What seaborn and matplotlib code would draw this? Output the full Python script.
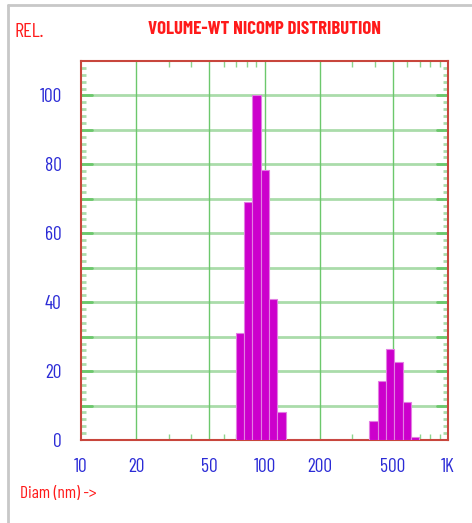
import matplotlib

matplotlib.use("Agg")
import matplotlib.pyplot as plt
import numpy as np
import seaborn as sns
from matplotlib.lines import Line2D
from matplotlib.ticker import FixedLocator, NullFormatter

# bin centres (nm) and relative volume-weighted intensity
diam_nm = [73.4, 81.5, 90.5, 100.5, 111.6, 123.9, 392, 436, 484, 537, 597, 663]
rel = [31, 69, 100, 78.5, 41, 8, 5.5, 17, 26.5, 22.5, 11, 1]

x_ticks = [10, 20, 50, 100, 200, 500, 1000]
x_tick_labels = ["10", "20", "50", "100", "200", "500", "1K"]
x_minor = [30, 40, 60, 70, 80, 90, 300, 400, 600, 700, 800, 900]
y_ticks = [0, 20, 40, 60, 80, 100]

RED = "#ff1a1a"
BLUE = "#2b2bd6"
SPINE = "#c8463c"
BAR = "#cc00cc"

sns.set_style("white")
plt.rcParams["font.family"] = ["Barlow Condensed", "Roboto Condensed", "DejaVu Sans"]

fig = plt.figure(figsize=(4.72, 5.23), dpi=100, facecolor="white")
ax = fig.add_axes([81 / 472, 1 - 440 / 523, 367 / 472, 379 / 523])

# log-spaced bins, 0.0455 decades wide
step = 0.0455
lo = np.log10(diam_nm[0]) - step / 2
hi = np.log10(diam_nm[-1]) + step / 2
sns.histplot(
    x=diam_nm,
    weights=rel,
    log_scale=True,
    binwidth=step,
    binrange=(lo, hi),
    color=BAR,
    alpha=1,
    edgecolor="#e27ee2",
    linewidth=0.8,
    ax=ax,
    zorder=3,
)

ax.set_xlim(10, 1000)
ax.set_ylim(0, 110)

# grid
for yv in range(10, 110, 10):
    ax.axhline(yv, color="#aadcaa", lw=2, zorder=1)
for xv in [20, 50, 100, 200, 500]:
    ax.axvline(xv, color="#6cc86c", lw=1, zorder=1)

ax.xaxis.set_major_locator(FixedLocator(x_ticks))
ax.set_xticklabels(x_tick_labels)
ax.xaxis.set_minor_locator(FixedLocator(x_minor))
ax.xaxis.set_minor_formatter(NullFormatter())
ax.tick_params(axis="x", which="major", length=0, pad=13, labelsize=14, labelcolor=BLUE)
ax.tick_params(axis="x", which="minor", direction="in", length=4.5, width=1,
               color="#8cd48c", top=True, bottom=True)

ax.set_yticks(y_ticks)
ax.yaxis.set_minor_locator(FixedLocator([v for v in range(0, 111, 2) if v % 10]))
ax.yaxis.set_minor_formatter(NullFormatter())
ax.tick_params(axis="y", which="major", direction="in", length=0, pad=14,
               labelsize=14, labelcolor=BLUE)
ax.tick_params(axis="y", which="minor", direction="in", length=3.5, width=2,
               color="#aadcaa", left=True, right=True)
# darker stubs where the 10-step grid lines meet the frame
for yv in range(10, 110, 10):
    ax.plot([10, 11.5], [yv, yv], color="#6cc86c", lw=2, zorder=2)
    ax.plot([870, 1000], [yv, yv], color="#6cc86c", lw=2, zorder=2)

ax.set_xlabel("")
ax.set_ylabel("")
for sp in ax.spines.values():
    sp.set_visible(True)
    sp.set_color(SPINE)
    sp.set_linewidth(1.5)

# panel border (top and left)
fig.add_artist(Line2D([8 / 472, 1], [1 - 5 / 523] * 2, color="#c8c8c8", lw=2))
fig.add_artist(Line2D([8 / 472] * 2, [0, 1 - 5 / 523], color="#c8c8c8", lw=2))

fig.text(14 / 472, 1 - 32 / 523, "REL.", color=RED, fontsize=14.5, va="center", ha="left")
fig.text(264 / 472, 1 - 29 / 523, "VOLUME-WT NICOMP DISTRIBUTION", color=RED,
         fontsize=13.5, fontweight="bold", va="center", ha="center")
fig.text(20 / 472, 1 - 493 / 523, "Diam (nm) ->", color=RED, fontsize=12.5, va="center", ha="left")

fig.savefig("out.png", dpi=100, facecolor="white")
